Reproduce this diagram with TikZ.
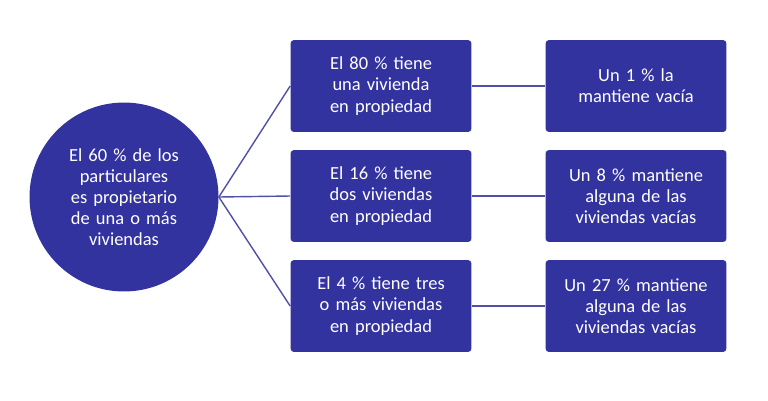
\documentclass[tikz,border=0pt]{standalone}
\usepackage{fontspec}
\setmainfont{Carlito}
\definecolor{boxblue}{RGB}{51,51,160}
\definecolor{linkblue}{RGB}{80,80,170}
\begin{document}
\begin{tikzpicture}[x=0.02cm,y=-0.02cm,
  box/.style={fill=boxblue,rounded corners=2pt,minimum width=3.62cm,minimum height=1.84cm,text width=3.3cm,align=center,text=white,font=\fontsize{10.5}{12}\selectfont},
  link/.style={draw=linkblue,line width=0.8pt}]
\useasboundingbox (0,0) rectangle (768,400);
\node[circle,fill=boxblue,minimum size=3.78cm,text width=2.6cm,align=center,text=white,font=\fontsize{10.5}{12}\selectfont] at (124,197) (root) {El 60 \% de los particulares es propietario de una o más viviendas};
\node[box] at (381,86) (a1) {El 80 \% tiene una vivienda en propiedad};
\node[box] at (381,196) (a2) {El 16 \% tiene dos viviendas en propiedad};
\node[box] at (381,306) (a3) {El 4 \% tiene tres o más viviendas en propiedad};
\node[box] at (636,86) (b1) {Un 1 \% la mantiene vacía};
\node[box] at (636,196) (b2) {Un 8 \% mantiene alguna de las viviendas vacías};
\node[box] at (636,306) (b3) {Un 27 \% mantiene alguna de las viviendas vacías};
\draw[link] (root.east) -- (a1.west);
\draw[link] (root.east) -- (a2.west);
\draw[link] (root.east) -- (a3.west);
\draw[link] (a1) -- (b1);
\draw[link] (a2) -- (b2);
\draw[link] (a3) -- (b3);
\end{tikzpicture}
\end{document}
